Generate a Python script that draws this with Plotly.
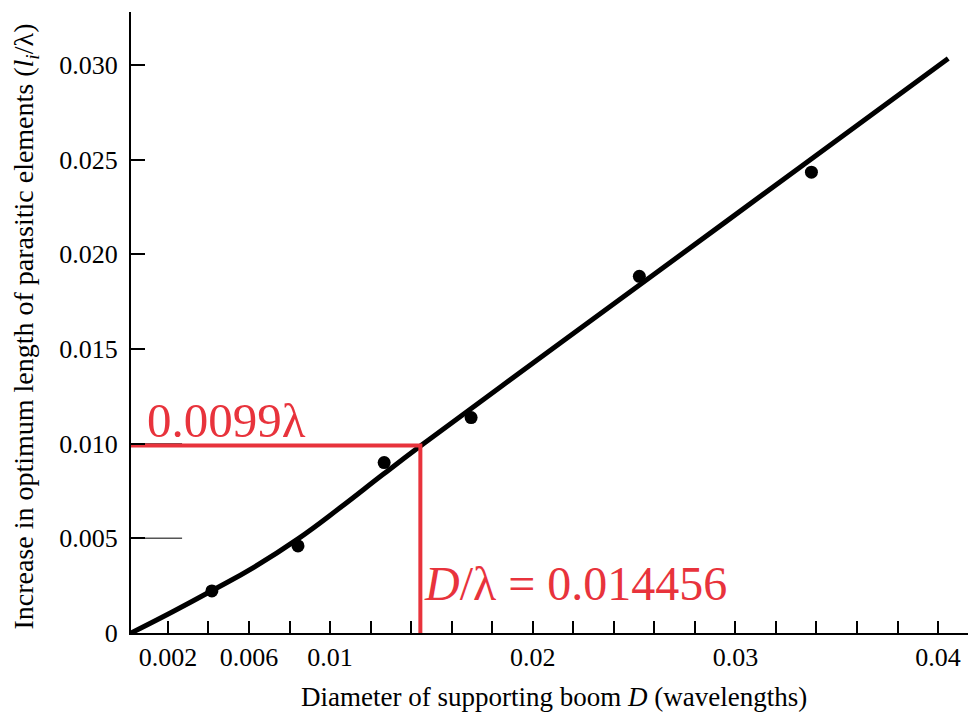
import plotly.graph_objects as go

# Measured points
data_x = [0.00417, 0.00842, 0.01267, 0.01696, 0.02526, 0.03375]
data_y = [0.00222, 0.00460, 0.00900, 0.01138, 0.01884, 0.02434]

# Fitted curve
curve_x = [0.00018, 0.00221, 0.00423, 0.00630, 0.00842, 0.01049, 0.01262, 0.01444,
           0.01839, 0.02579, 0.03319, 0.04050]
curve_y = [0.0, 0.00111, 0.00227, 0.00351, 0.00497, 0.00661, 0.00838, 0.00986,
           0.01298, 0.01879, 0.02460, 0.03035]

# Marked value
mark_x = 0.014456
mark_y = 0.0099

x_tickvals = [0.002, 0.006, 0.010, 0.020, 0.030, 0.040]
x_ticktext = ["0.002", "0.006", "0.01", "0.02", "0.03", "0.04"]
x_minor_step = 0.002
y_tickvals = [0, 0.005, 0.010, 0.015, 0.020, 0.025, 0.030]
y_ticktext = ["0", "0.005", "0.010", "0.015", "0.020", "0.025", "0.030"]

X0, X1 = 0.00018, 0.04187
Y0, Y1 = 0.0, 0.0328
RED = "#e8333c"
FONT = "Liberation Serif"

fig = go.Figure()

fig.add_trace(go.Scatter(x=curve_x, y=curve_y, mode="lines",
                         line=dict(color="black", width=5, shape="spline", smoothing=1.3),
                         showlegend=False, hoverinfo="skip"))
fig.add_trace(go.Scatter(x=data_x, y=data_y, mode="markers",
                         marker=dict(color="black", size=13),
                         showlegend=False))
# red guide lines
fig.add_trace(go.Scatter(x=[X0 - 0.00015, mark_x, mark_x], y=[mark_y, mark_y, 0],
                         mode="lines", line=dict(color=RED, width=4),
                         showlegend=False, hoverinfo="skip", cliponaxis=False))

# gray stray tick extensions
for yv in [0.005, 0.010]:
    fig.add_shape(type="line", xref="x", yref="y", x0=X0, x1=0.0027, y0=yv, y1=yv,
                  line=dict(color="#555555", width=1.5), layer="below")

fig.add_annotation(x=0.00087, y=mark_y, xref="x", yref="y", xanchor="left", yanchor="bottom",
                   text="0.0099λ", showarrow=False, yshift=-4,
                   font=dict(family=FONT, size=49, color=RED))
fig.add_annotation(x=mark_x, y=0.00264, xref="x", yref="y", xanchor="left", yanchor="middle",
                   text="<i>D</i>/λ = 0.014456", showarrow=False, xshift=2,
                   font=dict(family=FONT, size=48, color=RED))

fig.add_annotation(x=0.5006, y=-0.103, xref="paper", yref="paper", xanchor="center", yanchor="middle",
                   text="Diameter of supporting boom <i>D</i> (wavelengths)", showarrow=False,
                   font=dict(family=FONT, size=27, color="black"))
fig.add_annotation(x=-0.125, y=0.494, xref="paper", yref="paper", xanchor="center", yanchor="middle",
                   textangle=-90,
                   text="Increase in optimum length of parasitic elements (<i>l<sub>i</sub></i>/λ)",
                   showarrow=False, font=dict(family=FONT, size=28, color="black"))

fig.update_xaxes(range=[X0, X1], tickvals=x_tickvals, ticktext=x_ticktext,
                 ticks="inside", ticklen=12, tickwidth=1.5, tickcolor="black",
                 minor=dict(ticks="inside", ticklen=12, tickwidth=1.5, tickcolor="black",
                            dtick=x_minor_step, tick0=0),
                 showline=True, linecolor="black", linewidth=2, showgrid=False, zeroline=False,
                 tickfont=dict(family=FONT, size=26, color="black"), ticklabelstandoff=0)
fig.update_yaxes(range=[Y0, Y1], tickvals=y_tickvals, ticktext=y_ticktext,
                 ticks="inside", ticklen=14, tickwidth=2, tickcolor="black",
                 showline=True, linecolor="black", linewidth=2, showgrid=False, zeroline=False,
                 tickfont=dict(family=FONT, size=26, color="black"), ticklabelstandoff=6)

# page body has an 8px margin, so the figure is sized to end at the window edge
fig.update_layout(width=968, height=707, margin=dict(l=123, r=0, t=4, b=82),
                  plot_bgcolor="white", paper_bgcolor="white",
                  font=dict(family=FONT, color="black"))

fig.write_html("out.html")
